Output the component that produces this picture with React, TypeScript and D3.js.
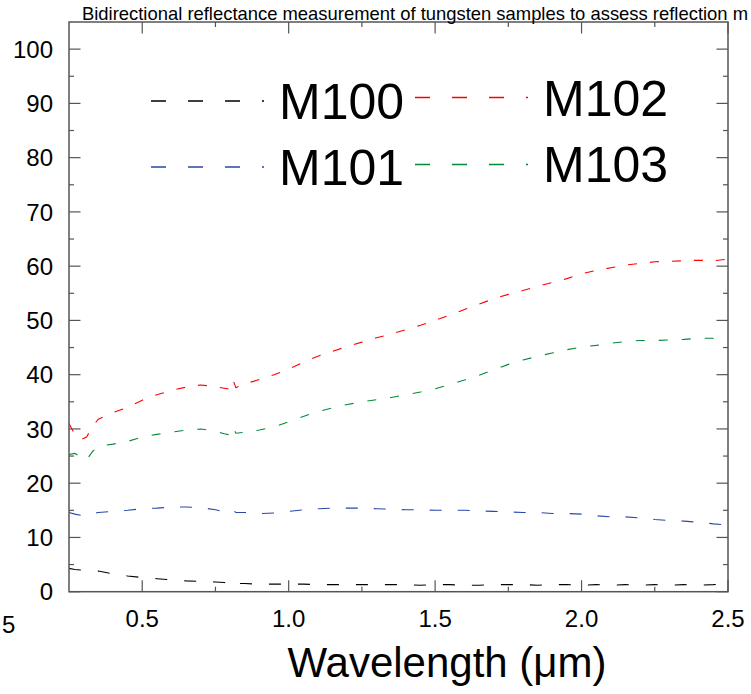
import React from "react";
import * as d3 from "d3";

const wavelengths = [0.25, 0.27, 0.29, 0.31, 0.33, 0.35, 0.40, 0.45, 0.50, 0.55, 0.60, 0.65, 0.70, 0.75, 0.78, 0.80, 0.81, 0.82, 0.85, 0.90, 0.95, 1.00, 1.05, 1.10, 1.15, 1.20, 1.25, 1.30, 1.35, 1.40, 1.45, 1.50, 1.55, 1.60, 1.65, 1.70, 1.75, 1.80, 1.85, 1.90, 1.95, 2.00, 2.05, 2.10, 2.15, 2.20, 2.25, 2.30, 2.35, 2.40, 2.45, 2.50];

const m100 = [4.3, 4.1, 4.0, 4.0, 3.9, 3.8, 3.3, 2.9, 2.6, 2.4, 2.2, 2.0, 1.9, 1.8, 1.7, 1.5, 2.0, 1.5, 1.5, 1.4, 1.4, 1.4, 1.4, 1.3, 1.3, 1.3, 1.3, 1.3, 1.3, 1.3, 1.2, 1.3, 1.3, 1.2, 1.2, 1.3, 1.3, 1.3, 1.2, 1.3, 1.3, 1.2, 1.3, 1.2, 1.3, 1.2, 1.3, 1.2, 1.3, 1.2, 1.3, 1.5];
const m101 = [14.6, 14.3, 14.1, 14.0, 14.4, 14.6, 14.8, 15.0, 15.3, 15.4, 15.6, 15.6, 15.5, 15.1, 14.7, 14.6, 15.0, 14.6, 14.6, 14.4, 14.5, 14.8, 15.1, 15.3, 15.4, 15.4, 15.4, 15.3, 15.2, 15.1, 15.1, 15.0, 15.0, 15.0, 14.9, 14.8, 14.7, 14.6, 14.6, 14.4, 14.4, 14.3, 14.0, 13.8, 13.8, 13.6, 13.3, 13.1, 13.0, 12.8, 12.5, 12.3];
const m102 = [31.0, 29.0, 28.0, 28.5, 30.4, 31.8, 33.0, 34.0, 35.3, 36.3, 37.1, 37.7, 38.1, 37.8, 37.5, 37.3, 39.0, 37.6, 38.3, 39.1, 40.0, 41.0, 42.3, 43.4, 44.3, 45.2, 46.0, 46.8, 47.5, 48.3, 49.1, 50.0, 51.0, 52.0, 53.0, 54.0, 54.8, 55.5, 56.3, 57.0, 57.7, 58.6, 59.2, 59.7, 60.2, 60.5, 60.8, 60.9, 61.0, 61.1, 61.0, 61.3];
const m103 = [25.3, 25.5, 24.8, 24.3, 25.8, 26.8, 27.2, 27.7, 28.5, 29.0, 29.4, 29.8, 30.0, 29.6, 29.1, 28.9, 30.3, 29.2, 29.4, 29.8, 30.4, 31.3, 32.3, 33.2, 33.9, 34.5, 35.0, 35.4, 35.8, 36.3, 36.8, 37.4, 38.2, 39.0, 39.9, 40.9, 41.9, 42.7, 43.4, 44.0, 44.6, 45.1, 45.4, 45.8, 46.1, 46.3, 46.3, 46.4, 46.5, 46.7, 46.7, 46.9];

const seriesNames = ["M100", "M101", "M102", "M103"];
const seriesValues = [m100, m101, m102, m103];
const seriesColors = ["#000000", "#2a48a8", "#ff0000", "#008a3a"];
const seriesDash = ["12,17", "12,16", "9,13", "9,14"];

const xMajorTicks = [0.5, 1.0, 1.5, 2.0, 2.5];
const xMinorTicks = [0.75, 1.25, 1.75, 2.25];
const yMajorTicks = [0, 10, 20, 30, 40, 50, 60, 70, 80, 90, 100];
const yMinorTicks = [5, 15, 25, 35, 45, 55, 65, 75, 85, 95];

const titleText = "Bidirectional reflectance measurement of tungsten samples to assess reflection m";
const xAxisTitle = "Wavelength (\u03bcm)";
const clippedTickLabel = "5";

const FONT = "'Liberation Sans', Arial, Helvetica, sans-serif";

export default function App() {
  const left = 69, right = 728, top = 22, bottom = 591.7;
  const x = d3.scaleLinear().domain([0.25, 2.5]).range([left, right]);
  const y = d3.scaleLinear().domain([0, 105]).range([bottom, top]);
  const line = d3
    .line<number>()
    .x((_, i) => x(wavelengths[i]))
    .y((d) => y(d));

  const axisColor = "#555";
  const majLen = 11.5;
  const minLen = 5;

  // legend layout: [lineX0, lineY, textX, textBaseline]
  const legendPos = [
    [151, 101, 279, 119],
    [151, 167, 279, 185],
    [415, 97.5, 543, 116],
    [415, 164.5, 543, 182],
  ];

  return (
    <svg
      width={751}
      height={694}
      style={{ position: "absolute", left: 0, top: 0, background: "#fff" }}
      fontFamily={FONT}
    >
      <rect x={0} y={0} width={751} height={694} fill="#fff" />
      {/* data */}
      <g>
        {seriesValues.map((vals, i) => (
          <path
            key={seriesNames[i]}
            d={line(vals) || ""}
            fill="none"
            stroke={seriesColors[i]}
            strokeWidth={1.1}
            strokeDasharray={seriesDash[i]}
          />
        ))}
      </g>
      {/* frame */}
      <rect x={left} y={top} width={right - left} height={bottom - top} fill="none" stroke={axisColor} strokeWidth={1.5} />
      {/* x ticks */}
      {xMajorTicks.map((t) => (
        <g key={"xM" + t}>
          <line x1={x(t)} x2={x(t)} y1={bottom} y2={bottom - majLen} stroke={axisColor} strokeWidth={1.2} />
          <line x1={x(t)} x2={x(t)} y1={top} y2={top + majLen} stroke={axisColor} strokeWidth={1.2} />
          <text x={x(t)} y={627} textAnchor="middle" fontSize={24} fill="#000">
            {d3.format(".1f")(t)}
          </text>
        </g>
      ))}
      {xMinorTicks.map((t) => (
        <g key={"xm" + t}>
          <line x1={x(t)} x2={x(t)} y1={bottom} y2={bottom - minLen} stroke={axisColor} strokeWidth={1.2} />
          <line x1={x(t)} x2={x(t)} y1={top} y2={top + minLen} stroke={axisColor} strokeWidth={1.2} />
        </g>
      ))}
      {/* y ticks */}
      {yMajorTicks.map((t) => (
        <g key={"yM" + t}>
          <line x1={left} x2={left + majLen} y1={y(t)} y2={y(t)} stroke={axisColor} strokeWidth={1.2} />
          <line x1={right} x2={right - majLen} y1={y(t)} y2={y(t)} stroke={axisColor} strokeWidth={1.2} />
          <text x={53} y={y(t)} dy="0.36em" textAnchor="end" fontSize={24} fill="#000">
            {t}
          </text>
        </g>
      ))}
      {yMinorTicks.map((t) => (
        <g key={"ym" + t}>
          <line x1={left} x2={left + minLen} y1={y(t)} y2={y(t)} stroke={axisColor} strokeWidth={1.2} />
          <line x1={right} x2={right - minLen} y1={y(t)} y2={y(t)} stroke={axisColor} strokeWidth={1.2} />
        </g>
      ))}
      <text x={2} y={633} fontSize={24} fill="#000">
        {clippedTickLabel}
      </text>
      {/* title */}
      <text x={82} y={20} fontSize={18.5} fill="#000" textLength={666} lengthAdjust="spacingAndGlyphs">
        {titleText}
      </text>
      {/* x axis title */}
      <text x={447} y={677} textAnchor="middle" fontSize={42} fill="#000">
        {xAxisTitle}
      </text>
      {/* legend */}
      {seriesNames.map((name, i) => {
        const [lx, ly, tx, ty] = legendPos[i];
        return (
          <g key={"leg" + name}>
            <line x1={lx} x2={lx + 113} y1={ly} y2={ly} stroke={seriesColors[i]} strokeWidth={1.6} strokeDasharray="15,22" />
            <text x={tx} y={ty} fontSize={50} fill="#000">
              {name}
            </text>
          </g>
        );
      })}
    </svg>
  );
}
